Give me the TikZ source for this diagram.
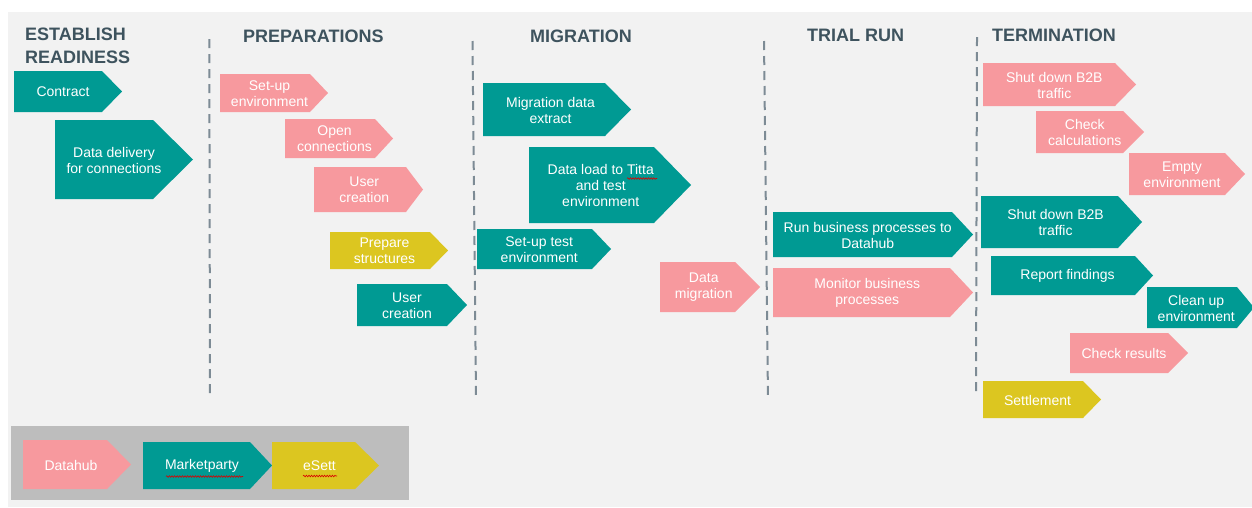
\documentclass[tikz,border=0pt]{standalone}
\usepackage{fontspec}
\setmainfont{Liberation Sans}
\usetikzlibrary{decorations.pathmorphing}
\definecolor{tealc}{RGB}{0,154,147}
\definecolor{pinkc}{RGB}{247,153,158}
\definecolor{yelc}{RGB}{220,198,32}
\definecolor{hdrc}{RGB}{62,83,94}
\definecolor{dashc}{RGB}{125,139,149}
\definecolor{bgc}{RGB}{242,242,242}
\definecolor{legc}{RGB}{189,189,189}
\newcommand\chev[8]{%
  \fill[#7] (#2,#3) -- (#4,#3) -- (#5,{(#3+#6)/2}) -- (#4,#6) -- (#2,#6) -- cycle;
  \node[chevtext] (#1) at ({(#2+#4)/2+(#5-#4)/4},{(#3+#6)/2+0.5}) {#8};
}
\begin{document}
\begin{tikzpicture}[x=1pt,y=-1pt,
  chevtext/.style={text=white,font=\fontsize{14}{16}\selectfont,align=center,inner sep=0pt},
  hdrtext/.style={text=hdrc,font=\fontsize{18}{23}\selectfont\bfseries,anchor=base west,inner sep=0pt,align=left},
  divider/.style={dashc,line width=2pt,dash pattern=on 9pt off 6pt},
  spell/.style={red!85!black,line width=0.6pt,decorate,decoration={snake,amplitude=0.8pt,segment length=2.6pt}}]
\useasboundingbox (0,0) rectangle (1252,507);
\fill[white] (0,0) rectangle (1252,507);
\fill[bgc] (8,12) rectangle (1252,507);

% headers
\node[hdrtext] (h1) at (25,63) {ESTABLISH\\READINESS};
\node[hdrtext] (h2) at (243,42) {PREPARATIONS};
\node[hdrtext] (h3) at (530,42) {MIGRATION};
\node[hdrtext] (h4) at (807,41) {TRIAL RUN};
\node[hdrtext] (h5) at (992,41) {TERMINATION};

% dividers
\coordinate (d1t) at (209.3,39); \coordinate (d1b) at (210,397);
\coordinate (d2t) at (472.5,41); \coordinate (d2b) at (476,398);
\coordinate (d3t) at (764,41); \coordinate (d3b) at (768,400);
\coordinate (d4t) at (977,37); \coordinate (d4b) at (976,395);
\draw[divider] (d1t) -- (d1b);
\draw[divider] (d2t) -- (d2b);
\draw[divider] (d3t) -- (d3b);
\draw[divider] (d4t) -- (d4b);

% establish readiness
\chev{contract}{14}{71}{102}{122}{112}{tealc}{Contract}
\chev{datadel}{55}{120}{153}{193}{199}{tealc}{Data delivery\\for connections}
% preparations
\chev{setupenv}{220}{74}{310}{328}{112}{pinkc}{Set-up\\environment}
\chev{openconn}{285}{119}{375}{393}{158}{pinkc}{Open\\connections}
\chev{usercrA}{314}{167}{406}{423}{212}{pinkc}{User\\creation}
\chev{prepstr}{330}{232}{430}{448}{269}{yelc}{Prepare\\structures}
\chev{usercrB}{357}{284}{447}{467}{326}{tealc}{User\\creation}
% migration
\chev{migext}{483}{83}{605}{631}{136}{tealc}{Migration data\\extract}
\chev{dataload}{529}{147}{654}{691}{223}{tealc}{Data load to Titta\\and test\\environment}
\chev{setuptest}{477}{229}{592}{611}{269}{tealc}{Set-up test\\environment}
\chev{datamig}{660}{262}{735}{760}{312}{pinkc}{Data\\migration}
% trial run
\chev{runbus}{773}{212}{952}{973}{257}{tealc}{Run business processes to\\Datahub}
\chev{monbus}{773}{268}{950}{973}{317}{pinkc}{Monitor business\\processes}
% termination
\chev{shutA}{983}{63}{1115}{1136}{106}{pinkc}{Shut down B2B\\traffic}
\chev{checkcalc}{1036}{111}{1123}{1144}{153}{pinkc}{Check\\calculations}
\chev{emptyenv}{1129}{153}{1225}{1245}{195}{pinkc}{Empty\\environment}
\chev{shutB}{981}{196}{1118}{1142}{248}{tealc}{Shut down B2B\\traffic}
\chev{report}{991}{256}{1135}{1153}{295}{tealc}{Report findings}
\chev{cleanup}{1147}{287}{1237}{1254}{328}{tealc}{Clean up\\environment}
\chev{checkres}{1070}{333}{1168}{1188}{373}{pinkc}{Check results}
\chev{settle}{983}{381}{1083}{1101}{418}{yelc}{Settlement}

% legend
\fill[legc] (11,426) rectangle (409,500);
\chev{lgdh}{23}{440}{107}{131}{489}{pinkc}{Datahub}
\chev{lgmp}{143}{442}{250}{272}{489}{tealc}{Marketparty}
\chev{lges}{272}{442}{355}{379}{489}{yelc}{eSett}

% spell-check underlines
\draw[spell] (627,178.5) -- (657,178.5);
\draw[spell] (166,476.5) -- (243,476.5);
\draw[spell] (303,476) -- (337,476);
\end{tikzpicture}
\end{document}
